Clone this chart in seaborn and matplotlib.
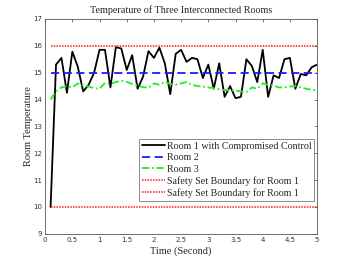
import numpy as np
import pandas as pd
import matplotlib
matplotlib.use('Agg')
import matplotlib.pyplot as plt
import seaborn as sns

# time axis (seconds)
time = [0.1, 0.2, 0.3, 0.4, 0.5, 0.6, 0.7, 0.8, 0.9, 1.0,
        1.1, 1.2, 1.3, 1.4, 1.5, 1.6, 1.7, 1.8, 1.9, 2.0,
        2.1, 2.2, 2.3, 2.4, 2.5, 2.6, 2.7, 2.8, 2.9, 3.0,
        3.1, 3.2, 3.3, 3.4, 3.5, 3.6, 3.7, 3.8, 3.9, 4.0,
        4.1, 4.2, 4.3, 4.4, 4.5, 4.6, 4.7, 4.8, 4.9, 5.0]

room1 = [10.0, 15.3, 15.55, 14.25, 15.78, 15.22, 14.3, 14.55, 15.0, 15.85,
         15.85, 14.45, 15.95, 15.9, 15.1, 15.65, 14.4, 14.85, 15.8, 15.55,
         15.93, 15.35, 14.2, 15.7, 15.85, 15.4, 15.55, 15.5, 14.8, 15.3,
         14.4, 15.35, 14.1, 14.5, 14.05, 14.1, 15.5, 15.25, 14.65, 15.85,
         14.1, 14.9, 14.8, 15.5, 15.55, 14.4, 14.95, 14.9, 15.2, 15.3]

room2 = [15.0] * len(time)

room3 = [14.0, 14.3, 14.45, 14.5, 14.45, 14.6, 14.52, 14.48, 14.42, 14.4,
         14.62, 14.58, 14.65, 14.7, 14.66, 14.58, 14.52, 14.46, 14.44, 14.6,
         14.55, 14.66, 14.58, 14.55, 14.6, 14.65, 14.55, 14.5, 14.48, 14.45,
         14.42, 14.38, 14.35, 14.35, 14.33, 14.3, 14.28, 14.45, 14.4, 14.6,
         14.55, 14.52, 14.45, 14.45, 14.48, 14.5, 14.45, 14.4, 14.36, 14.35]

upper_bound = [16.0] * len(time)
lower_bound = [10.0] * len(time)

df = pd.DataFrame({'time': time, 'room1': room1, 'room2': room2, 'room3': room3,
                   'upper': upper_bound, 'lower': lower_bound})

sns.set_style('white')

fig = plt.figure(figsize=(3.5, 2.63), dpi=100)
ax = fig.add_axes([0.129, 0.111, 0.777, 0.817])

sns.lineplot(data=df, x='time', y='room1', ax=ax, color='black', lw=1.3,
             label='Room 1 with Compromised Control')
sns.lineplot(data=df, x='time', y='room2', ax=ax, color='#1a1aff', lw=1.3,
             linestyle=(0, (4.5, 2.5)), label='Room 2')
sns.lineplot(data=df, x='time', y='room3', ax=ax, color='#22ee22', lw=1.3,
             linestyle=(0, (4, 1.5, 1, 1.5)), label='Room 3')
sns.lineplot(data=df, x='time', y='upper', ax=ax, color='#ff1a1a', lw=1.1,
             linestyle=(0, (1, 0.8)), label='Safety Set Boundary for Room 1')
sns.lineplot(data=df, x='time', y='lower', ax=ax, color='#ff1a1a', lw=1.1,
             linestyle=(0, (1, 0.8)), label='Safety Set Boundary for Room 1')

ax.set_xlim(0, 5)
ax.set_ylim(9, 17)
ax.set_xticks(np.arange(0, 5.01, 0.5))
ax.set_xticklabels(['0', '0.5', '1', '1.5', '2', '2.5', '3', '3.5', '4', '4.5', '5'])
ax.set_yticks(range(9, 18))

ax.tick_params(direction='in', length=2.5, width=0.5, labelsize=5,
               labelcolor='#333333', color='#444444', top=True, right=True,
               pad=2)
for lab in ax.get_xticklabels() + ax.get_yticklabels():
    lab.set_family('DejaVu Sans')

for s in ax.spines.values():
    s.set_color('#555555')
    s.set_linewidth(0.6)

ax.set_title('Temperature of Three Interconnected Rooms', family='Liberation Serif',
             fontsize=7.3, pad=4)
ax.set_xlabel('Time (Second)', family='Liberation Serif', fontsize=7.5, labelpad=2.5)
ax.set_ylabel('Room Temperature', family='Liberation Serif', fontsize=7.5, labelpad=0.5)

leg = ax.legend(loc='lower right', bbox_to_anchor=(0.99, 0.153), frameon=True,
                fancybox=False, prop={'family': 'Liberation Serif', 'size': 7.2},
                handlelength=2.3, handletextpad=0.2, borderpad=0.3,
                labelspacing=0.25, borderaxespad=0)
leg.get_frame().set_edgecolor('#555555')
leg.get_frame().set_linewidth(0.6)

fig.savefig('out.png', dpi=100)
